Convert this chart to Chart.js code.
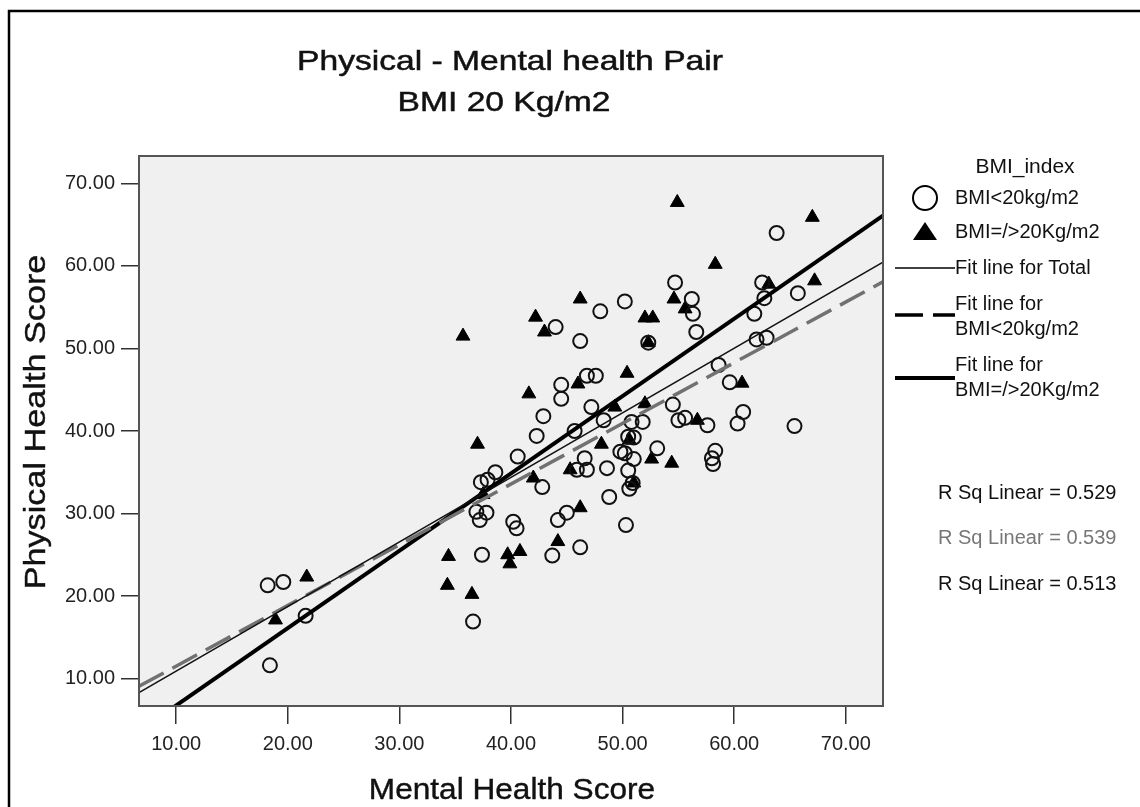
<!DOCTYPE html>
<html>
<head>
<meta charset="utf-8">
<script src="https://cdn.jsdelivr.net/npm/chart.js@4.4.0/dist/chart.umd.min.js"></script>
<style>
  html, body { margin: 0; padding: 0; background: #fff; }
  #wrap { width: 1140px; height: 807px; position: relative; }
</style>
</head>
<body>
<div id="wrap"><canvas id="c" width="1140" height="807"></canvas></div>
<script>
// Mental / physical health scores, BMI < 20 kg/m2 group
const lowBmiMental = [18.2, 19.6, 21.6, 18.4, 48.0, 50.2, 44.0, 46.2, 46.8, 47.6, 44.5, 44.5, 47.2, 42.9, 48.3, 42.3, 45.7,
  63.8, 54.7, 62.5, 56.2, 56.3, 65.7, 62.7, 61.8, 56.6, 52.3, 62.0, 62.9, 58.6, 59.6, 54.5, 55.0, 55.6, 57.6, 60.3, 60.8,
  65.4, 51.8, 50.8, 53.1, 58.3, 58.0, 58.1, 50.5, 51.0, 50.2, 51.0, 50.5, 50.6, 50.9, 50.3, 49.8, 40.6, 38.6, 37.9, 37.3,
  42.8, 36.9, 37.8, 37.2, 40.2, 40.5, 45.9, 46.8, 46.6, 48.6, 48.8, 44.2, 45.0, 43.7, 46.2, 37.4, 36.6];
const lowBmiPhysical = [21.3, 21.7, 17.6, 11.6, 54.5, 55.7, 52.6, 50.9, 46.7, 46.7, 45.6, 43.9, 42.9, 41.8, 41.3, 39.4, 40.0,
  64.0, 58.0, 58.0, 56.0, 54.2, 56.7, 56.1, 54.2, 52.0, 50.7, 51.1, 51.3, 48.0, 45.9, 43.2, 41.3, 41.6, 40.7, 40.9, 42.3,
  40.6, 41.1, 41.1, 37.9, 37.6, 36.7, 36.0, 39.3, 39.2, 37.3, 36.6, 35.2, 33.0, 33.7, 28.6, 37.5, 36.9, 35.0, 34.1, 33.8,
  33.2, 30.2, 30.1, 29.2, 29.0, 28.2, 35.3, 35.3, 36.7, 35.5, 32.0, 29.2, 30.1, 24.9, 25.9, 25.0, 16.9];

// Mental / physical health scores, BMI >= 20 kg/m2 group
const highBmiMental = [21.7, 18.9, 35.7, 46.2, 42.2, 43.0, 50.4, 46.0, 41.6, 49.3, 54.9, 67.0, 58.3, 63.1, 67.2, 54.6, 55.6,
  52.0, 52.7, 52.3, 60.7, 52.0, 56.7, 52.6, 54.4, 50.6, 51.0, 37.0, 42.0, 37.5, 45.3, 48.1, 46.2, 44.2, 34.4, 39.7, 40.8,
  39.9, 34.3, 36.5];
const highBmiPhysical = [22.3, 17.1, 51.5, 56.0, 53.8, 52.0, 47.0, 45.7, 44.5, 42.9, 67.7, 65.9, 60.2, 57.8, 58.2, 56.0, 54.8,
  53.7, 53.7, 50.7, 45.8, 43.3, 41.3, 36.6, 36.1, 38.9, 33.7, 38.4, 34.3, 32.3, 35.3, 38.4, 30.7, 26.6, 24.8, 25.0, 25.4,
  23.9, 21.3, 20.2];

// Linear fits: Total, BMI<20, BMI>=20
const fitIntercepts = [3.06, 4.15, -2.64];
const fitSlopes = [0.783, 0.7355, 0.9376];
const rSquared = [0.529, 0.539, 0.513];

const groupLabels = ['BMI<20kg/m2', 'BMI=/>20Kg/m2'];
const tickValues = [10, 20, 30, 40, 50, 60, 70];
const axisMin = 6.67;
const axisMax = 73.33;

const FONT = "'Liberation Sans', Arial, sans-serif";

function pairs(xs, ys) {
  return xs.map((x, i) => ({ x: x, y: ys[i] }));
}
function fitPoints(k) {
  return [axisMin, axisMax].map(x => ({ x: x, y: fitIntercepts[k] + fitSlopes[k] * x }));
}

// text drawn with a horizontal stretch factor (sx) along its baseline
function stretchedText(ctx, text, x, y, sx, angle, weight) {
  ctx.save();
  ctx.translate(x, y);
  if (angle) ctx.rotate(angle);
  ctx.scale(sx, 1);
  ctx.fillText(text, 0, 0);
  if (weight) {
    ctx.lineWidth = weight;
    ctx.strokeStyle = ctx.fillStyle;
    ctx.strokeText(text, 0, 0);
  }
  ctx.restore();
}

const decor = {
  id: 'decor',
  beforeDraw(chart) {
    const ctx = chart.ctx;
    const a = chart.chartArea;
    ctx.save();
    ctx.fillStyle = '#ffffff';
    ctx.fillRect(0, 0, chart.width, chart.height);
    // outer frame
    ctx.strokeStyle = '#000';
    ctx.lineWidth = 2.5;
    ctx.beginPath();
    ctx.moveTo(9, chart.height + 2);
    ctx.lineTo(9, 11);
    ctx.lineTo(chart.width + 2, 11);
    ctx.stroke();
    // plot background
    ctx.fillStyle = '#f0f0f0';
    ctx.fillRect(a.left, a.top, a.right - a.left, a.bottom - a.top);
    ctx.restore();
  },
  afterDraw(chart) {
    const ctx = chart.ctx;
    const a = chart.chartArea;
    ctx.save();
    // plot frame
    ctx.strokeStyle = '#555';
    ctx.lineWidth = 2;
    ctx.strokeRect(a.left, a.top, a.right - a.left, a.bottom - a.top);

    ctx.fillStyle = '#111';
    ctx.textBaseline = 'middle';
    // title
    ctx.textAlign = 'center';
    ctx.font = '28px ' + FONT;
    stretchedText(ctx, 'Physical - Mental health Pair', 510, 62, 1.2, 0, 0.5);
    stretchedText(ctx, 'BMI 20 Kg/m2', 504, 103, 1.2, 0, 0.5);

    // axis titles
    ctx.font = '29px ' + FONT;
    stretchedText(ctx, 'Mental Health Score', 512, 791, 1.09, 0, 0.4);
    stretchedText(ctx, 'Physical Health Score', 37, 422, 1.18, -Math.PI / 2, 0.4);

    // legend
    ctx.font = '21px ' + FONT;
    ctx.fillText('BMI_index', 1025, 167);
    ctx.textAlign = 'left';
    ctx.font = '20px ' + FONT;
    ctx.lineWidth = 2;
    ctx.strokeStyle = '#000';
    ctx.beginPath();
    ctx.arc(925, 198, 12, 0, Math.PI * 2);
    ctx.stroke();
    ctx.fillText(groupLabels[0], 955, 198);
    ctx.fillStyle = '#000';
    ctx.beginPath();
    ctx.moveTo(925, 222);
    ctx.lineTo(937, 240);
    ctx.lineTo(913, 240);
    ctx.closePath();
    ctx.fill();
    ctx.fillStyle = '#111';
    ctx.fillText(groupLabels[1], 955, 232);

    const legendLine = (y, width, dash) => {
      ctx.lineWidth = width;
      ctx.setLineDash(dash);
      ctx.beginPath();
      ctx.moveTo(895, y);
      ctx.lineTo(955, y);
      ctx.stroke();
      ctx.setLineDash([]);
    };
    legendLine(268, 1.5, []);
    ctx.fillText('Fit line for Total', 955, 268);
    legendLine(315, 3.5, [28, 10]);
    ctx.fillText('Fit line for', 955, 304);
    ctx.fillText(groupLabels[0], 955, 329);
    legendLine(378, 4, []);
    ctx.fillText('Fit line for', 955, 365);
    ctx.fillText(groupLabels[1], 955, 390);

    // R squared labels
    const rsY = [493, 538, 584];
    const rsColor = ['#111', '#777', '#111'];
    rSquared.forEach((r, i) => {
      ctx.fillStyle = rsColor[i];
      ctx.fillText('R Sq Linear = ' + r.toFixed(3), 938, rsY[i]);
    });
    ctx.restore();
  }
};

const tickFmt = v => Number(v).toFixed(2);

new Chart(document.getElementById('c'), {
  type: 'scatter',
  data: {
    datasets: [
      {
        label: 'Fit line for Total', type: 'line', data: fitPoints(0),
        borderColor: '#111', borderWidth: 1.5, pointRadius: 0, fill: false
      },
      {
        label: 'Fit line for BMI<20kg/m2', type: 'line', data: fitPoints(1),
        borderColor: '#717171', borderWidth: 3.5, borderDash: [28, 10], pointRadius: 0, fill: false
      },
      {
        label: 'Fit line for BMI=/>20Kg/m2', type: 'line', data: fitPoints(2),
        borderColor: '#000', borderWidth: 4, pointRadius: 0, fill: false
      },
      {
        label: groupLabels[0], data: pairs(lowBmiMental, lowBmiPhysical),
        pointStyle: 'circle', pointRadius: 7, pointBorderWidth: 2,
        pointBackgroundColor: 'rgba(0,0,0,0)', pointBorderColor: '#111'
      },
      {
        label: groupLabels[1], data: pairs(highBmiMental, highBmiPhysical),
        pointStyle: 'triangle', pointRadius: 8, pointBorderWidth: 1,
        pointBackgroundColor: '#000', pointBorderColor: '#000'
      }
    ]
  },
  options: {
    responsive: false,
    animation: false,
    devicePixelRatio: 1,
    layout: { padding: { top: 156, right: 257, left: 0, bottom: 0 } },
    plugins: { legend: { display: false }, tooltip: { enabled: false }, title: { display: false } },
    scales: {
      x: {
        type: 'linear', position: 'bottom', min: axisMin, max: axisMax,
        afterBuildTicks: s => { s.ticks = tickValues.map(v => ({ value: v })); },
        afterFit: s => { s.height = 101; },
        ticks: { callback: tickFmt, color: '#222', font: { family: FONT, size: 20 }, padding: 8, maxRotation: 0, autoSkip: false },
        grid: { drawOnChartArea: false, drawTicks: true, tickLength: 18, color: '#333', lineWidth: 1.5 },
        border: { display: false }
      },
      y: {
        type: 'linear', position: 'left', min: axisMin, max: axisMax,
        afterBuildTicks: s => { s.ticks = tickValues.map(v => ({ value: v })); },
        afterFit: s => { s.width = 139; },
        ticks: { callback: tickFmt, color: '#222', font: { family: FONT, size: 20 }, padding: 6, autoSkip: false },
        grid: { drawOnChartArea: false, drawTicks: true, tickLength: 18, color: '#333', lineWidth: 1.5 },
        border: { display: false }
      }
    }
  },
  plugins: [decor]
});
</script>
</body>
</html>
